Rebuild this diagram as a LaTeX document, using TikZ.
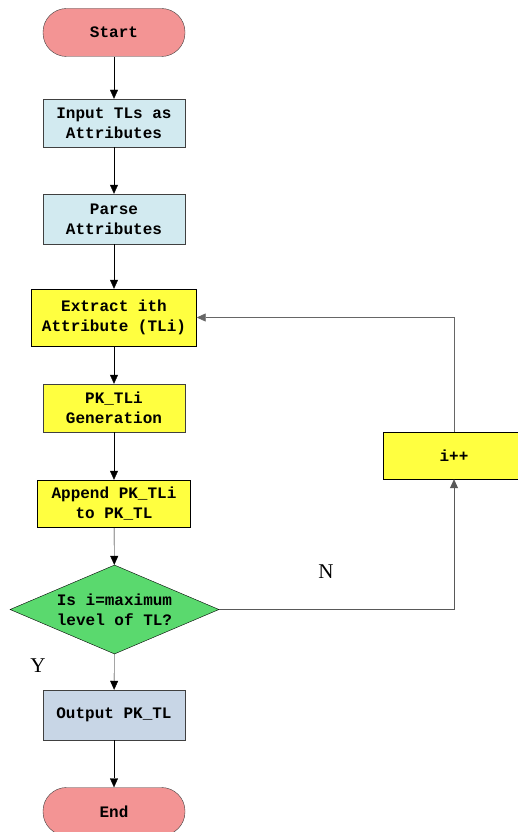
\documentclass[tikz,border=0pt]{standalone}
\usepackage{fontspec}
\setmonofont{Liberation Mono}
\newfontfamily\labelfont{Liberation Serif}
\usetikzlibrary{shapes.geometric,arrows.meta}
\definecolor{termred}{RGB}{243,148,148}
\definecolor{stepblue}{RGB}{210,234,240}
\definecolor{stepyellow}{RGB}{255,255,64}
\definecolor{testgreen}{RGB}{90,217,110}
\definecolor{outblue}{RGB}{200,214,230}

\begin{document}
\begin{tikzpicture}[x=1pt,y=-1pt,
  >={Triangle[length=9pt,width=8pt]},
  box/.style={draw=black!75,rectangle,minimum width=142pt,minimum height=48pt,
    inner sep=2pt,align=center,font=\ttfamily\bfseries\fontsize{16}{20}\selectfont},
  term/.style={box,rounded corners=23.5pt,fill=termred},
  flow/.style={->,black}]
  \useasboundingbox (0,0) rectangle (518,832);
  % main column
  \node[term] (start) at (114,32.5) {Start};
  \node[box,fill=stepblue] (input) at (114,123) {Input TLs as\\Attributes};
  \node[box,fill=stepblue,minimum height=50pt] (parse) at (114,219) {Parse\\Attributes};
  \node[box,fill=stepyellow,draw=black,minimum width=165pt,minimum height=57pt] (extract) at (114,317.5) {Extract ith\\Attribute (TLi)};
  \node[box,fill=stepyellow,minimum height=48pt] (gen) at (114,408) {PK\_TLi\\Generation};
  \node[box,fill=stepyellow,draw=black,minimum width=153pt,minimum height=47pt] (append) at (114,503.5) {Append PK\_TLi\\to PK\_TL};
  \node[box,diamond,fill=testgreen,draw=black,inner sep=0pt,aspect=2.35,
    minimum width=209pt,minimum height=89pt] (test) at (114.5,609.5) {Is i=maximum\\level of TL?};
  \node[box,fill=outblue,minimum height=50pt] (output) at (114,715) {Output PK\_TL};
  \node[term] (finish) at (114,811.5) {End};
  % loop
  \node[box,fill=stepyellow,draw=black,minimum height=47pt] (inc) at (454,455.5) {i++};
  \node[font=\labelfont\fontsize{21}{24}\selectfont] (nlab) at (326,572) {N};
  \node[font=\labelfont\fontsize{21}{24}\selectfont] (ylab) at (38,666) {Y};

  \draw[flow] (start) -- (input);
  \draw[flow] (input) -- (parse);
  \draw[flow] (parse) -- (extract);
  \draw[flow] (extract) -- (gen);
  \draw[flow] (gen) -- (append);
  \draw[flow] (append) -- (test);
  \draw[flow] (test) -- (output);
  \draw[flow] (output) -- (finish);
  \draw[->,black!65,thick] (test.east) -| (inc.south);
  \draw[->,black!60,thick] (inc.north) |- (extract.east);
\end{tikzpicture}
\end{document}
